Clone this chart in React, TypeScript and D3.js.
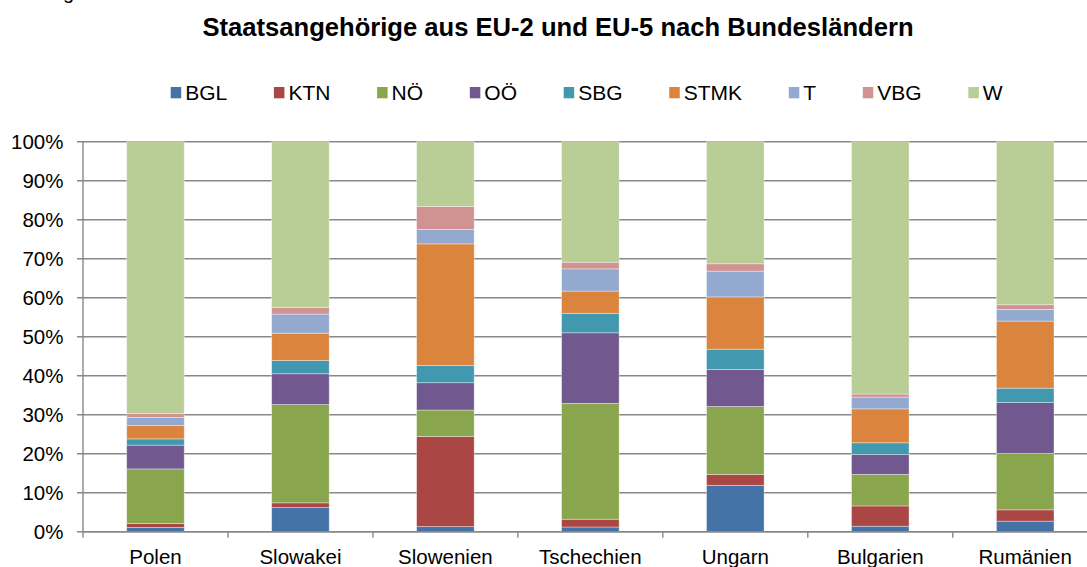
import React from "react";
import * as d3 from "d3";

const categories = ["Polen", "Slowakei", "Slowenien", "Tschechien", "Ungarn", "Bulgarien", "Rumänien"];
const seriesNames = ["BGL", "KTN", "NÖ", "OÖ", "SBG", "STMK", "T", "VBG", "W"];
const seriesColors = ["#4572A7", "#AA4643", "#89A54E", "#71588F", "#4198AF", "#DB843D", "#93A9CF", "#D19392", "#B9CD96"];

const BGL = [1.1, 6.2, 1.3, 1.2, 11.9, 1.4, 2.7];
const KTN = [1.0, 1.2, 23.1, 2.0, 2.8, 5.2, 2.9];
const NOE = [14.0, 25.2, 6.8, 29.7, 17.4, 8.1, 14.5];
const OOE = [6.1, 7.9, 7.0, 18.1, 9.5, 5.1, 13.0];
const SBG = [1.6, 3.4, 4.4, 5.0, 5.2, 3.0, 3.7];
const STMK = [3.4, 7.0, 31.2, 5.7, 13.4, 8.7, 17.2];
const T = [2.1, 4.9, 3.7, 5.7, 6.6, 3.0, 3.0];
const VBG = [1.0, 1.7, 5.9, 1.7, 1.9, 0.8, 1.2];
const W = [69.7, 42.5, 16.6, 30.9, 31.3, 64.7, 41.8];

const yTicks = [0, 0.1, 0.2, 0.3, 0.4, 0.5, 0.6, 0.7, 0.8, 0.9, 1.0];
const titleText = "Staatsangehörige aus EU-2 und EU-5 nach Bundesländern";

const FONT = "'Liberation Sans', Arial, sans-serif";

function measure(text: string, font: string): number {
  const c = document.createElement("canvas");
  const ctx = c.getContext("2d");
  if (!ctx) return text.length * 10;
  ctx.font = font;
  return ctx.measureText(text).width;
}

export default function App() {
  const width = 1087;
  const height = 567;
  const plotLeft = 83;
  const plotRight = 1097.7;
  const plotTop = 141.7;
  const plotBottom = 531.7;

  const seriesValues = [BGL, KTN, NOE, OOE, SBG, STMK, T, VBG, W];
  const table = categories.map((cat, i) => {
    const row: Record<string, any> = { cat };
    seriesNames.forEach((s, j) => (row[s] = seriesValues[j][i]));
    return row;
  });
  const stacked = d3.stack<any>().keys(seriesNames).offset(d3.stackOffsetExpand)(table);

  const x = d3.scaleBand<string>().domain(categories).range([plotLeft, plotRight]).paddingInner(0.603).paddingOuter(0.3015);
  const y = d3.scaleLinear().domain([0, 1]).range([plotBottom, plotTop]);
  const step = x.step();

  const legendFont = `21px ${FONT}`;
  const markerSize = 10.5;
  const markerGap = 4;
  const itemGap = 46.7;
  let cursor = 170.7;
  const legendItems = seriesNames.map((s, i) => {
    const w = measure(s, legendFont);
    const item = { name: s, color: seriesColors[i], x: cursor };
    cursor += markerSize + markerGap + w + itemGap;
    return item;
  });

  return (
    <svg width={width} height={height} style={{ position: "absolute", left: 0, top: 0, background: "#fff" }} fontFamily={FONT}>
      <rect x={0} y={0} width={width} height={height} fill="#fff" />
      <text x={63} y={-1.5} fontSize={20} fill="#000">g</text>
      <text x={558} y={36} textAnchor="middle" fontSize={25.6} fontWeight="bold" fill="#000">{titleText}</text>

      {legendItems.map((it) => (
        <g key={it.name}>
          <rect x={it.x} y={87} width={markerSize} height={markerSize + 0.8} fill={it.color} />
          <text x={it.x + markerSize + markerGap} y={92.5} dy="0.35em" fontSize={21} fill="#000">{it.name}</text>
        </g>
      ))}

      {yTicks.map((t) => (
        <g key={t}>
          <line x1={plotLeft - 6} x2={plotRight} y1={y(t)} y2={y(t)} stroke="#888" strokeWidth={1.4} />
          <text x={63.5} y={y(t)} dy="0.35em" textAnchor="end" fontSize={20.5} fill="#000">{d3.format(".0%")(t)}</text>
        </g>
      ))}
      <line x1={plotLeft} x2={plotLeft} y1={plotTop} y2={plotBottom} stroke="#888" strokeWidth={1.4} />

      {stacked.map((layer, j) => (
        <g key={layer.key} fill={seriesColors[j]}>
          {layer.map((d, i) => (
            <rect
              key={i}
              x={x(categories[i])}
              y={y(d[1])}
              width={x.bandwidth()}
              height={Math.max(0, y(d[0]) - y(d[1]))}
              stroke="rgba(255,255,255,0.45)"
              strokeWidth={0.8}
            />
          ))}
        </g>
      ))}

      <line x1={plotLeft} x2={plotRight} y1={plotBottom} y2={plotBottom} stroke="#888" strokeWidth={1.4} />
      {d3.range(categories.length + 1).map((k) => (
        <line key={k} x1={plotLeft + k * step} x2={plotLeft + k * step} y1={plotBottom} y2={plotBottom + 6} stroke="#888" strokeWidth={1.4} />
      ))}
      {categories.map((c) => (
        <text key={c} x={(x(c) as number) + x.bandwidth() / 2} y={564} textAnchor="middle" fontSize={20.5} fill="#000">{c}</text>
      ))}
    </svg>
  );
}
